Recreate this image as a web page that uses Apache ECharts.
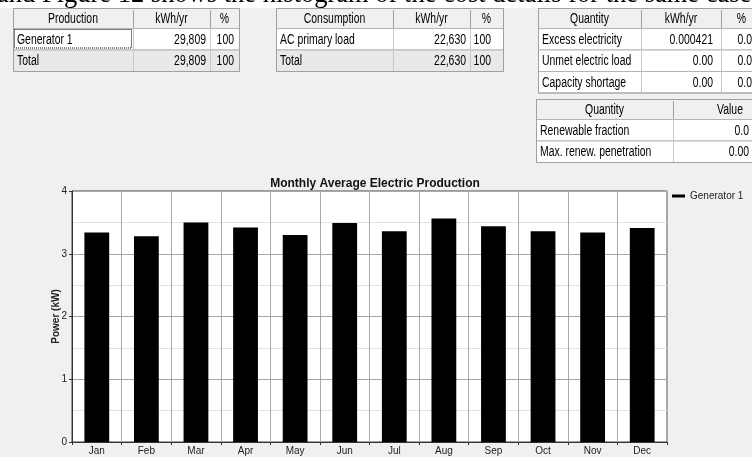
<!DOCTYPE html>
<html>
<head>
<meta charset="utf-8">
<script src="https://cdn.jsdelivr.net/npm/echarts@6/dist/echarts.min.js"></script>
<style>
html,body{margin:0;padding:0;background:#f0f0f0;}
#chart{width:752px;height:457px;}
</style>
</head>
<body>
<div id="chart"></div>
<script>
// ---- data ----
const months = ['Jan','Feb','Mar','Apr','May','Jun','Jul','Aug','Sep','Oct','Nov','Dec'];
const generator1 = [3.34,3.28,3.50,3.42,3.30,3.49,3.36,3.56,3.44,3.36,3.34,3.41];
const yTicks = [0,1,2,3,4];
const seriesName = 'Generator 1';
const chartTitle = 'Monthly Average Electric Production';
const yAxisName = 'Power (kW)';
const captionText = 'and Figure 12 shows the histogram of the cost details for the same case';

const productionHeader = ['Production','kWh/yr','%'];
const productionRows = [['Generator 1','29,809','100'],['Total','29,809','100']];
const consumptionHeader = ['Consumption','kWh/yr','%'];
const consumptionRows = [['AC primary load','22,630','100'],['Total','22,630','100']];
const quantityHeader = ['Quantity','kWh/yr','%'];
const quantityRows = [['Excess electricity','0.000421','0.0'],['Unmet electric load','0.00','0.0'],['Capacity shortage','0.00','0.0']];
const renewHeader = ['Quantity','Value'];
const renewRows = [['Renewable fraction','0.0'],['Max. renew. penetration','0.00']];

// ---- layout ----
const tableFont = "14px 'Liberation Sans',Arial,sans-serif";
const textScale = 0.745;
const headerH = 20, rowH = 21.5;
const tables = [
  {header: productionHeader, rows: productionRows, edges:[13,133,210,239], top:8, right:[null,206,234], shadeTotal:true, focus:true},
  {header: consumptionHeader, rows: consumptionRows, edges:[276,393,470,503], top:8, right:[null,466,491], shadeTotal:true},
  {header: quantityHeader, rows: quantityRows, edges:[538,641,721,762], top:8, right:[null,713,752]},
  {header: renewHeader, rows: renewRows, edges:[536,673,787], top:99, right:[null,749]}
];

function txt(x, y, s, align){
  return {type:'text', x:x, y:y, scaleX:textScale, z:5,
    style:{text:s, font:tableFont, fill:'#000', align:align, verticalAlign:'middle'}};
}

function buildTables(){
  const els = [];
  // caption strip
  els.push({type:'rect', shape:{x:0,y:0,width:752,height:8}, style:{fill:'#ffffff'}, z:1});
  els.push({type:'text', x:-3, y:9, style:{text:captionText, font:"26.5px 'Liberation Serif','Times New Roman',serif", fill:'#000', align:'left', verticalAlign:'bottom'}, z:2});
  tables.forEach(t => {
    const e = t.edges, L = e[0], R = e[e.length-1];
    const totalH = headerH + rowH * t.rows.length;
    const top = t.top;
    // header
    els.push({type:'rect', shape:{x:L+0.5,y:top+0.5,width:R-L,height:headerH}, style:{fill:'#f0f0f0', stroke:'#a0a0a0', lineWidth:1}, z:3});
    for (let c=1;c<e.length-1;c++){
      els.push({type:'line', shape:{x1:e[c]+0.5,y1:top+2,x2:e[c]+0.5,y2:top+headerH}, style:{stroke:'#a0a0a0',lineWidth:1}, z:4});
    }
    t.header.forEach((h,c)=>{
      els.push(txt((e[c]+e[c+1])/2, top+headerH/2+1, h, 'center'));
    });
    // rows
    t.rows.forEach((row,r)=>{
      const y0 = top + headerH + r*rowH;
      const isTotal = t.shadeTotal && r === t.rows.length-1;
      els.push({type:'rect', shape:{x:L+0.5,y:y0+0.5,width:R-L,height:rowH}, style:{fill:isTotal?'#e9e9e9':'#ffffff', stroke:'#b4b4b4', lineWidth:1}, z:3});
      for (let c=1;c<e.length-1;c++){
        els.push({type:'line', shape:{x1:e[c]+0.5,y1:y0,x2:e[c]+0.5,y2:y0+rowH}, style:{stroke:'#c8c8c8',lineWidth:1}, z:4});
      }
      row.forEach((v,c)=>{
        const cy = y0 + rowH/2 + 1;
        if (c===0) els.push(txt(e[0]+4, cy, v, 'left'));
        else els.push(txt(t.right[c], cy, v, 'right'));
      });
      if (t.focus && r===0){
        els.push({type:'rect', shape:{x:L+1.5,y:y0+1.5,width:e[1]-L-3,height:rowH-3}, style:{fill:null, stroke:'#000', lineWidth:1, lineDash:[1,1]}, z:6});
      }
    });
    // outer border
    els.push({type:'rect', shape:{x:L+0.5,y:top+0.5,width:R-L,height:totalH}, style:{fill:null, stroke:'#a0a0a0', lineWidth:1}, z:6});
  });
  return els;
}

const chart = echarts.init(document.getElementById('chart'), null, {renderer:'canvas'});
const axisFont = "'Liberation Sans',Arial,sans-serif";
chart.setOption({
  backgroundColor:'#f0f0f0',
  animation:false,
  title:{
    text: chartTitle, left:370, top:173, textAlign:'center',
    textStyle:{fontSize:12, fontWeight:'bold', fontFamily:axisFont, color:'#111'}
  },
  legend:{
    data:[seriesName], left:672, top:191, padding:0,
    icon:'rect', itemWidth:13, itemHeight:3,
    textStyle:{fontSize:10, fontFamily:axisFont, color:'#222'}
  },
  grid:{
    left:72, right:85, top:191, bottom:15,
    show:true, backgroundColor:'#ffffff', borderColor:'#444', borderWidth:1,
    containLabel:false
  },
  xAxis:{
    type:'category', data:months, boundaryGap:true,
    axisLine:{show:true, lineStyle:{color:'#333', width:1}},
    axisTick:{show:true, length:3, inside:false, lineStyle:{color:'#333'}},
    axisLabel:{fontSize:10, fontFamily:axisFont, color:'#222', margin:4},
    splitLine:{show:true, lineStyle:{color:'#a8a8a8', width:1}}
  },
  yAxis:{
    type:'value', min:yTicks[0], max:yTicks[yTicks.length-1], interval:1,
    name:yAxisName, nameLocation:'middle', nameRotate:90, nameGap:11, nameMoveOverlap:false,
    nameTextStyle:{fontSize:10, fontWeight:'bold', fontFamily:axisFont, color:'#222'},
    axisLine:{show:true, lineStyle:{color:'#333', width:1}},
    axisTick:{show:true, length:3, lineStyle:{color:'#333'}},
    axisLabel:{fontSize:10, fontFamily:axisFont, color:'#222', margin:5},
    splitLine:{show:true, lineStyle:{color:'#a8a8a8', width:1}},
    minorTick:{show:false, splitNumber:2},
    minorSplitLine:{show:true, lineStyle:{color:'#e2e2e2', width:1}}
  },
  series:[{
    name:seriesName, type:'bar', data:generator1, barWidth:'50%',
    itemStyle:{color:'#000000'}
  }],
  graphic: buildTables()
});
</script>
</body>
</html>
